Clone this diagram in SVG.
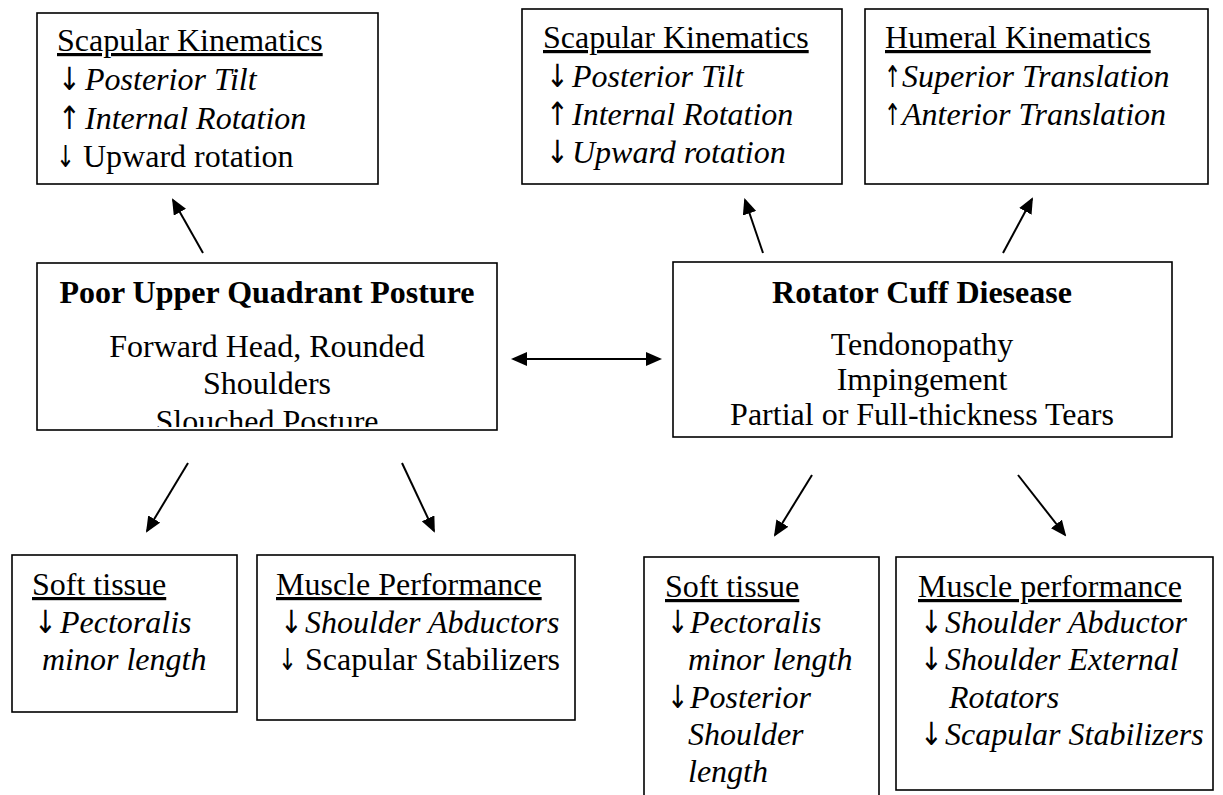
<svg xmlns="http://www.w3.org/2000/svg" width="1223" height="795" viewBox="0 0 1223 795">
<style>
.box{fill:#fff;stroke:#000;stroke-width:1.6}
text{font-family:"Liberation Serif","Times New Roman",serif;font-size:32px;fill:#000}
.i{font-style:italic}
.b{font-weight:bold}
.u{text-decoration:underline}
.c{text-anchor:middle}
text.ar{font-family:"DejaVu Sans",sans-serif;font-size:30px}
text.ai{font-family:"DejaVu Sans",sans-serif;font-size:32px;font-style:oblique}
.con{stroke:#000;stroke-width:2;fill:none}
</style>
<defs>
<marker id="ah" markerUnits="userSpaceOnUse" markerWidth="16" markerHeight="14" refX="14" refY="7" orient="auto-start-reverse">
<path d="M0,0 L16,7 L0,14 Z" fill="#000"/>
</marker>
<clipPath id="clipL"><rect x="37" y="263" width="460" height="164"/></clipPath>
</defs>
<rect width="1223" height="795" fill="#fff"/>

<g id="scap-left">
<rect class="box" x="37" y="13" width="341" height="171"/>
<text x="57" y="51" class="u">Scapular Kinematics</text>
<text class="ai" transform="translate(58,90) scale(0.85,1)">↓</text>
<text x="85" y="90" class="i">Posterior Tilt</text>
<text class="ai" transform="translate(58,129) scale(0.85,1)">↑</text>
<text x="85" y="129" class="i">Internal Rotation</text>
<text class="ar" transform="translate(56,167) scale(0.75,1)">↓</text>
<text x="83" y="167">Upward rotation</text>
</g>

<g id="scap-mid">
<rect class="box" x="522" y="9" width="320" height="175"/>
<text x="543" y="48" class="u">Scapular Kinematics</text>
<text class="ai" transform="translate(546,87) scale(0.85,1)">↓</text>
<text x="572" y="87" class="i">Posterior Tilt</text>
<text class="ai" transform="translate(546,125) scale(0.85,1)">↑</text>
<text x="572" y="125" class="i">Internal Rotation</text>
<text class="ai" transform="translate(546,163) scale(0.85,1)">↓</text>
<text x="572" y="163" class="i">Upward rotation</text>
</g>

<g id="humeral">
<rect class="box" x="865" y="9" width="343" height="175"/>
<text x="885" y="48" class="u">Humeral Kinematics</text>
<text class="ar" transform="translate(884,87) scale(0.68,1)">↑</text>
<text x="902" y="87" class="i">Superior Translation</text>
<text class="ar" transform="translate(884,125) scale(0.68,1)">↑</text>
<text x="902" y="125" class="i">Anterior Translation</text>
</g>

<g id="posture">
<rect class="box" x="37" y="263" width="460" height="167"/>
<g clip-path="url(#clipL)">
<text x="267" y="303" class="b c">Poor Upper Quadrant Posture</text>
<text x="267" y="357" class="c">Forward Head, Rounded</text>
<text x="267" y="394" class="c">Shoulders</text>
<text x="267" y="432" class="c">Slouched Posture</text>
</g>
</g>

<g id="rcd">
<rect class="box" x="673" y="262" width="499" height="175"/>
<text x="922" y="303" class="b c">Rotator Cuff Diesease</text>
<text x="922" y="355" class="c">Tendonopathy</text>
<text x="922" y="390" class="c">Impingement</text>
<text x="922" y="425" class="c">Partial or Full-thickness Tears</text>
</g>

<g id="soft-left">
<rect class="box" x="12" y="555" width="225" height="157"/>
<text x="32" y="595" class="u">Soft tissue</text>
<text class="ai" transform="translate(34,633) scale(0.85,1)">↓</text>
<text x="60" y="633" class="i">Pectoralis</text>
<text x="42" y="670" class="i">minor length</text>
</g>

<g id="muscle-left">
<rect class="box" x="257" y="555" width="318" height="165"/>
<text x="276" y="595" class="u">Muscle Performance</text>
<text class="ai" transform="translate(280,633) scale(0.85,1)">↓</text>
<text x="305" y="633" class="i">Shoulder Abductors</text>
<text class="ar" transform="translate(278,670) scale(0.75,1)">↓</text>
<text x="305" y="670">Scapular Stabilizers</text>
</g>

<g id="soft-right">
<rect class="box" x="644" y="557" width="235" height="250"/>
<text x="665" y="597" class="u">Soft tissue</text>
<text class="ai" transform="translate(667,633) scale(0.8,1)">↓</text>
<text x="690" y="633" class="i">Pectoralis</text>
<text x="688" y="670" class="i">minor length</text>
<text class="ai" transform="translate(667,708) scale(0.8,1)">↓</text>
<text x="690" y="708" class="i">Posterior</text>
<text x="688" y="745" class="i">Shoulder</text>
<text x="688" y="782" class="i">length</text>
</g>

<g id="muscle-right">
<rect class="box" x="896" y="557" width="317" height="233"/>
<text x="918" y="597" class="u">Muscle performance</text>
<text class="ai" transform="translate(920,633) scale(0.85,1)">↓</text>
<text x="945" y="633" class="i">Shoulder Abductor</text>
<text class="ai" transform="translate(920,670) scale(0.85,1)">↓</text>
<text x="945" y="670" class="i">Shoulder External</text>
<text x="949" y="708" class="i">Rotators</text>
<text class="ai" transform="translate(920,745) scale(0.85,1)">↓</text>
<text x="945" y="745" class="i">Scapular Stabilizers</text>
</g>

<g id="connectors">
<line class="con" x1="203" y1="253" x2="173" y2="200" marker-end="url(#ah)"/>
<line class="con" x1="763" y1="253" x2="745" y2="200" marker-end="url(#ah)"/>
<line class="con" x1="1003" y1="253" x2="1032" y2="199" marker-end="url(#ah)"/>
<line class="con" x1="513" y1="359" x2="660" y2="359" marker-start="url(#ah)" marker-end="url(#ah)"/>
<line class="con" x1="188" y1="463" x2="147" y2="531" marker-end="url(#ah)"/>
<line class="con" x1="402" y1="463" x2="434" y2="531" marker-end="url(#ah)"/>
<line class="con" x1="812" y1="475" x2="775" y2="535" marker-end="url(#ah)"/>
<line class="con" x1="1018" y1="475" x2="1065" y2="535" marker-end="url(#ah)"/>
</g>
</svg>
